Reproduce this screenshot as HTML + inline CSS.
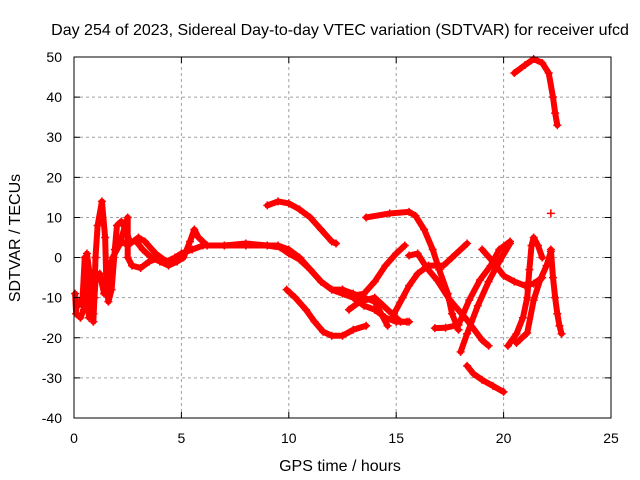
<!DOCTYPE html>
<html><head><meta charset="utf-8"><style>
body{margin:0;background:#fff}
svg{display:block;font-family:"Liberation Sans",sans-serif}
</style></head><body>
<svg id="chart" width="640" height="480" viewBox="0 0 640 480">
<rect width="640" height="480" fill="#fff"/>
<text x="340" y="35" font-size="16" text-anchor="middle">Day 254 of 2023, Sidereal Day-to-day VTEC variation (SDTVAR) for receiver ufcd</text>
<g id="grid"></g>
<g id="series"></g>
<rect x="74" y="57" width="537" height="361" fill="none" stroke="#000" stroke-width="1"/>
<g id="axes"></g>
<text x="340" y="471" font-size="16" text-anchor="middle">GPS time / hours</text>
<text transform="translate(20,238) rotate(-90)" font-size="16" text-anchor="middle">SDTVAR / TECUs</text>
</svg>
<script>
const xTicks=[0,5,10,15,20,25];
const yTicks=[-40,-30,-20,-10,0,10,20,30,40,50];
const trackA=[[0.05,-9],[0.1,-14],[0.3,-15],[0.45,-13],[0.55,-5],[0.6,1],[0.7,-3],[0.8,-12],[0.9,-16],[0.95,-10],[1.0,0],[1.1,8],[1.3,14],[1.45,5],[1.5,-5],[1.6,-11],[1.75,-8],[1.9,2],[2.0,8],[2.2,9],[2.4,7],[2.6,4],[2.9,4],[3.2,2],[3.6,0],[4.0,-1],[4.4,-2],[4.8,-1],[5.1,0],[5.4,4],[5.6,7],[5.8,5],[6.2,3],[7,3],[8,3.5],[9,3],[9.6,2.5],[10,1],[10.5,-0.5],[11,-3],[11.5,-6],[12,-8],[12.5,-9],[13,-10],[13.5,-12],[14,-13],[14.5,-15],[15,-16],[15.5,-16]];
const trackA2=[[0.2,-12],[0.4,-10],[0.5,0],[0.6,-8],[0.7,-15],[0.8,-8],[0.9,-14],[1.0,-6],[1.2,-4],[1.4,-9],[1.6,-4],[1.8,0],[2.1,3],[2.5,10],[2.5,0],[2.7,-2],[3.1,-2.6],[3.5,-1],[4.0,0]];
const trackB=[[2.0,5],[2.5,3],[3,5],[3.3,4],[3.8,1],[4.3,-1],[4.7,0],[5,1],[5.5,2],[6,3],[7,3],[8,3],[9,3],[9.5,3],[10,2],[10.5,0],[11,-3],[11.5,-6],[12,-8],[12.5,-8],[13,-9],[13.5,-10],[14,-11],[14.3,-14],[14.6,-17]];
const trackC=[[9.0,13],[9.5,14],[10,13.5],[10.5,12],[11,10],[11.5,7],[12,4],[12.2,3.5]];
const trackD=[[9.9,-8],[10.3,-10],[10.8,-13],[11.2,-16],[11.6,-18.5],[12,-19.5],[12.5,-19.5],[13,-18],[13.6,-17]];
const trackE=[[12.5,-8],[13,-9.5],[13.5,-9],[14,-6],[14.5,-2],[15,1],[15.4,3]];
const trackF=[[12.8,-13],[13.3,-11],[14,-10],[14.4,-12],[14.8,-14],[15.2,-16],[15.6,-16]];
const trackG=[[13.6,10],[14.7,11],[15.6,11.4],[15.9,10.4],[16.3,7],[16.7,2],[17,-3],[17.4,-9],[17.6,-14],[17.9,-18]];
const trackH=[[14.9,-14],[15.3,-10],[15.6,-7],[16,-4],[16.5,-2],[17.2,-2],[17.6,0],[18.3,3.5]];
const trackI=[[15.6,0.5],[16,1],[16.4,-2.4],[16.9,-5.6],[17.5,-10.6],[18.3,-15.6],[19,-20.6],[19.3,-22]];
const trackJ=[[16.8,-17.6],[17.3,-17.5],[17.9,-16.8],[18.4,-10.6],[18.9,-5.6],[19.4,-2],[19.8,2],[20.3,4]];
const trackK=[[18,-23.5],[18.3,-19],[18.8,-12],[19.3,-6],[19.8,-1],[20.3,3.5]];
const trackL=[[19.0,2],[19.5,-1],[20,-4.5],[20.5,-6],[21,-7],[21.4,-6.5],[21.8,-5]];
const trackM=[[20.2,-22],[20.6,-19],[20.9,-15],[21.1,-10],[21.2,-3],[21.3,3],[21.4,5],[21.6,3],[21.8,0]];
const trackN=[[20.6,-21.3],[21.1,-18.8],[21.4,-10.6],[21.7,-5.6],[22.0,-2],[22.2,1.5]];
const trackO=[[22.2,2],[22.3,-5],[22.4,-10],[22.5,-14],[22.6,-17],[22.7,-19]];
const trackP=[[20.5,46],[21,48],[21.4,49.5],[21.8,48.5],[22.1,46],[22.3,40],[22.4,36],[22.5,33]];
const trackQ=[[22.2,11]];
const trackR=[[18.3,-27],[18.6,-29],[19,-30.5],[19.5,-32],[20,-33.5]];
const tracks=[trackA,trackA2,trackB,trackC,trackD,trackE,trackF,trackG,trackH,trackI,trackJ,trackK,trackL,trackM,trackN,trackO,trackP,trackQ,trackR];

const X0=74,X1=611,Y0=418,Y1=57;
const xs=v=>X0+(v-0)/(25-0)*(X1-X0);
const ys=v=>Y0-(v+40)/(90)*(Y0-Y1);
const NS="http://www.w3.org/2000/svg";
const grid=document.getElementById('grid'),axes=document.getElementById('axes'),series=document.getElementById('series');
function mk(t,a,p){const e=document.createElementNS(NS,t);for(const k in a)e.setAttribute(k,a[k]);p.appendChild(e);return e;}
xTicks.forEach(t=>{
  const x=xs(t);
  if(t>0&&t<25){const g=mk('line',{x1:x,x2:x,y1:Y0,y2:Y1,stroke:'#a0a0a0','stroke-dasharray':'3,3'},grid);
  
  }
  const tk=mk('path',{d:`M${x},${Y0}v-6M${x},${Y1}v6`,stroke:'#000'},axes);
  
  
  const l=mk('text',{x:x,y:443,'font-size':14,'text-anchor':'middle'},axes);l.textContent=t;
  
  
});
yTicks.forEach(t=>{
  const y=ys(t);
  if(t>-40&&t<50){const g=mk('line',{x1:X0,x2:X1,y1:y,y2:y,stroke:'#a0a0a0','stroke-dasharray':'3,3'},grid);
  
  }
  const tk=mk('path',{d:`M${X0},${y}h6M${X1},${y}h-6`,stroke:'#000'},axes);
  
  
  const l=mk('text',{x:62,y:y+5,'font-size':14,'text-anchor':'end'},axes);l.textContent=t;
  
  
});
tracks.forEach((tr,i)=>{
  const g=mk('g',{},series);
  
  
  if(tr.length>1){
    const pl=mk('polyline',{points:tr.map(p=>xs(p[0])+','+ys(p[1])).join(' '),fill:'none',stroke:'#f00','stroke-width':6,'stroke-linejoin':'round','stroke-linecap':'round'},g);
    
    
  }
  tr.forEach(p=>{
    const x=xs(p[0]),y=ys(p[1]);
    const m=mk('path',{d:`M${x-4},${y}h8M${x},${y-4}v8`,stroke:'#f00','stroke-width':1.5},g);
    
    
  });
});
</script>
</body></html>
